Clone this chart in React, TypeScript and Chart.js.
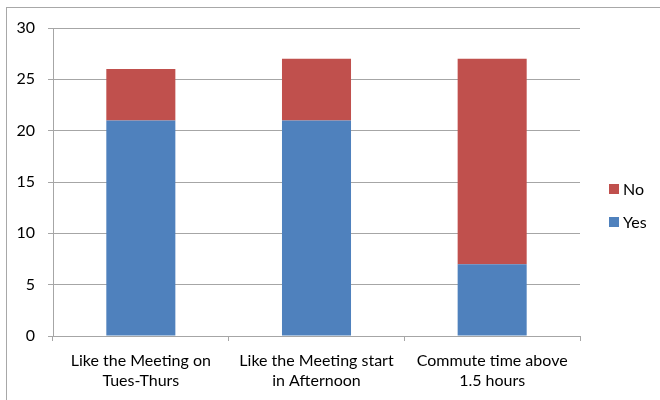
import React, { useEffect, useRef } from "react";
import { Chart, registerables } from "chart.js";

Chart.register(...registerables);

const categories: string[][] = [
  ["Like the Meeting on", "Tues-Thurs"],
  ["Like the Meeting start", "in Afternoon"],
  ["Commute time above", "1.5 hours"],
];
const yesValues: number[] = [21, 21, 7];
const noValues: number[] = [5, 6, 20];
const yTicks: number[] = [0, 5, 10, 15, 20, 25, 30];

const FONT = "Lato, 'Open Sans', sans-serif";
const BLUE = "#4F81BD";
const RED = "#C0504D";
const GRID = "#a6a6a6";

const framePlugin = {
  id: "frame",
  beforeDraw(chart: any) {
    const ctx = chart.ctx;
    ctx.save();
    ctx.fillStyle = "#ffffff";
    ctx.fillRect(0, 0, chart.width, chart.height);
    ctx.strokeStyle = "#a8a8a8";
    ctx.lineWidth = 1;
    ctx.strokeRect(6.5, 7.5, chart.width + 20, chart.height + 20);
    ctx.restore();
  },
};

const legendPlugin = {
  id: "customLegend",
  afterDraw(chart: any) {
    const ctx = chart.ctx;
    const items = [
      { label: chart.data.datasets[1].label, color: chart.data.datasets[1].backgroundColor, y: 189 },
      { label: chart.data.datasets[0].label, color: chart.data.datasets[0].backgroundColor, y: 222 },
    ];
    ctx.save();
    ctx.font = `16px ${FONT}`;
    ctx.textBaseline = "middle";
    ctx.textAlign = "left";
    for (const it of items) {
      ctx.fillStyle = it.color;
      ctx.fillRect(609, it.y - 5, 10, 10);
      ctx.fillStyle = "#000";
      ctx.fillText(it.label, 623, it.y + 1);
    }
    ctx.restore();
  },
};

export default function App() {
  const ref = useRef<HTMLCanvasElement | null>(null);
  useEffect(() => {
    if (!ref.current) return;
    const chart = new Chart(ref.current, {
      type: "bar",
      data: {
        labels: categories,
        datasets: [
          { label: "Yes", data: yesValues, backgroundColor: BLUE, borderWidth: 0 },
          { label: "No", data: noValues, backgroundColor: RED, borderWidth: 0 },
        ],
      },
      options: {
        responsive: false,
        animation: false,
        layout: { padding: { top: 28, right: 80, bottom: 0, left: 0 } },
        datasets: { bar: { categoryPercentage: 1, barPercentage: 0.393 } },
        plugins: { legend: { display: false }, tooltip: { enabled: false } },
        scales: {
          x: {
            stacked: true,
            offset: true,
            grid: {
              offset: true,
              drawOnChartArea: false,
              drawTicks: true,
              tickLength: 5,
              color: GRID,
            },
            border: { color: GRID },
            ticks: {
              color: "#000",
              font: { family: FONT, size: 16, lineHeight: 1.25 },
              padding: 10,
              maxRotation: 0,
              autoSkip: false,
            },
            afterFit(scale: any) {
              scale.height = 64;
            },
          },
          y: {
            stacked: true,
            min: 0,
            max: 30,
            afterBuildTicks(scale: any) {
              scale.ticks = yTicks.map((v) => ({ value: v }));
            },
            grid: { color: GRID, tickLength: 5, drawTicks: true },
            border: { color: GRID },
            ticks: {
              color: "#000",
              font: { family: FONT, size: 16 },
              padding: 13,
            },
            afterFit(scale: any) {
              scale.width = 53;
            },
          },
        },
      },
      plugins: [framePlugin, legendPlugin],
    });
    return () => chart.destroy();
  }, []);
  return (
    <div style={{ position: "absolute", left: 0, top: 0, width: 660, height: 400 }}>
      <canvas ref={ref} width={660} height={400} style={{ display: "block" }} />
    </div>
  );
}
